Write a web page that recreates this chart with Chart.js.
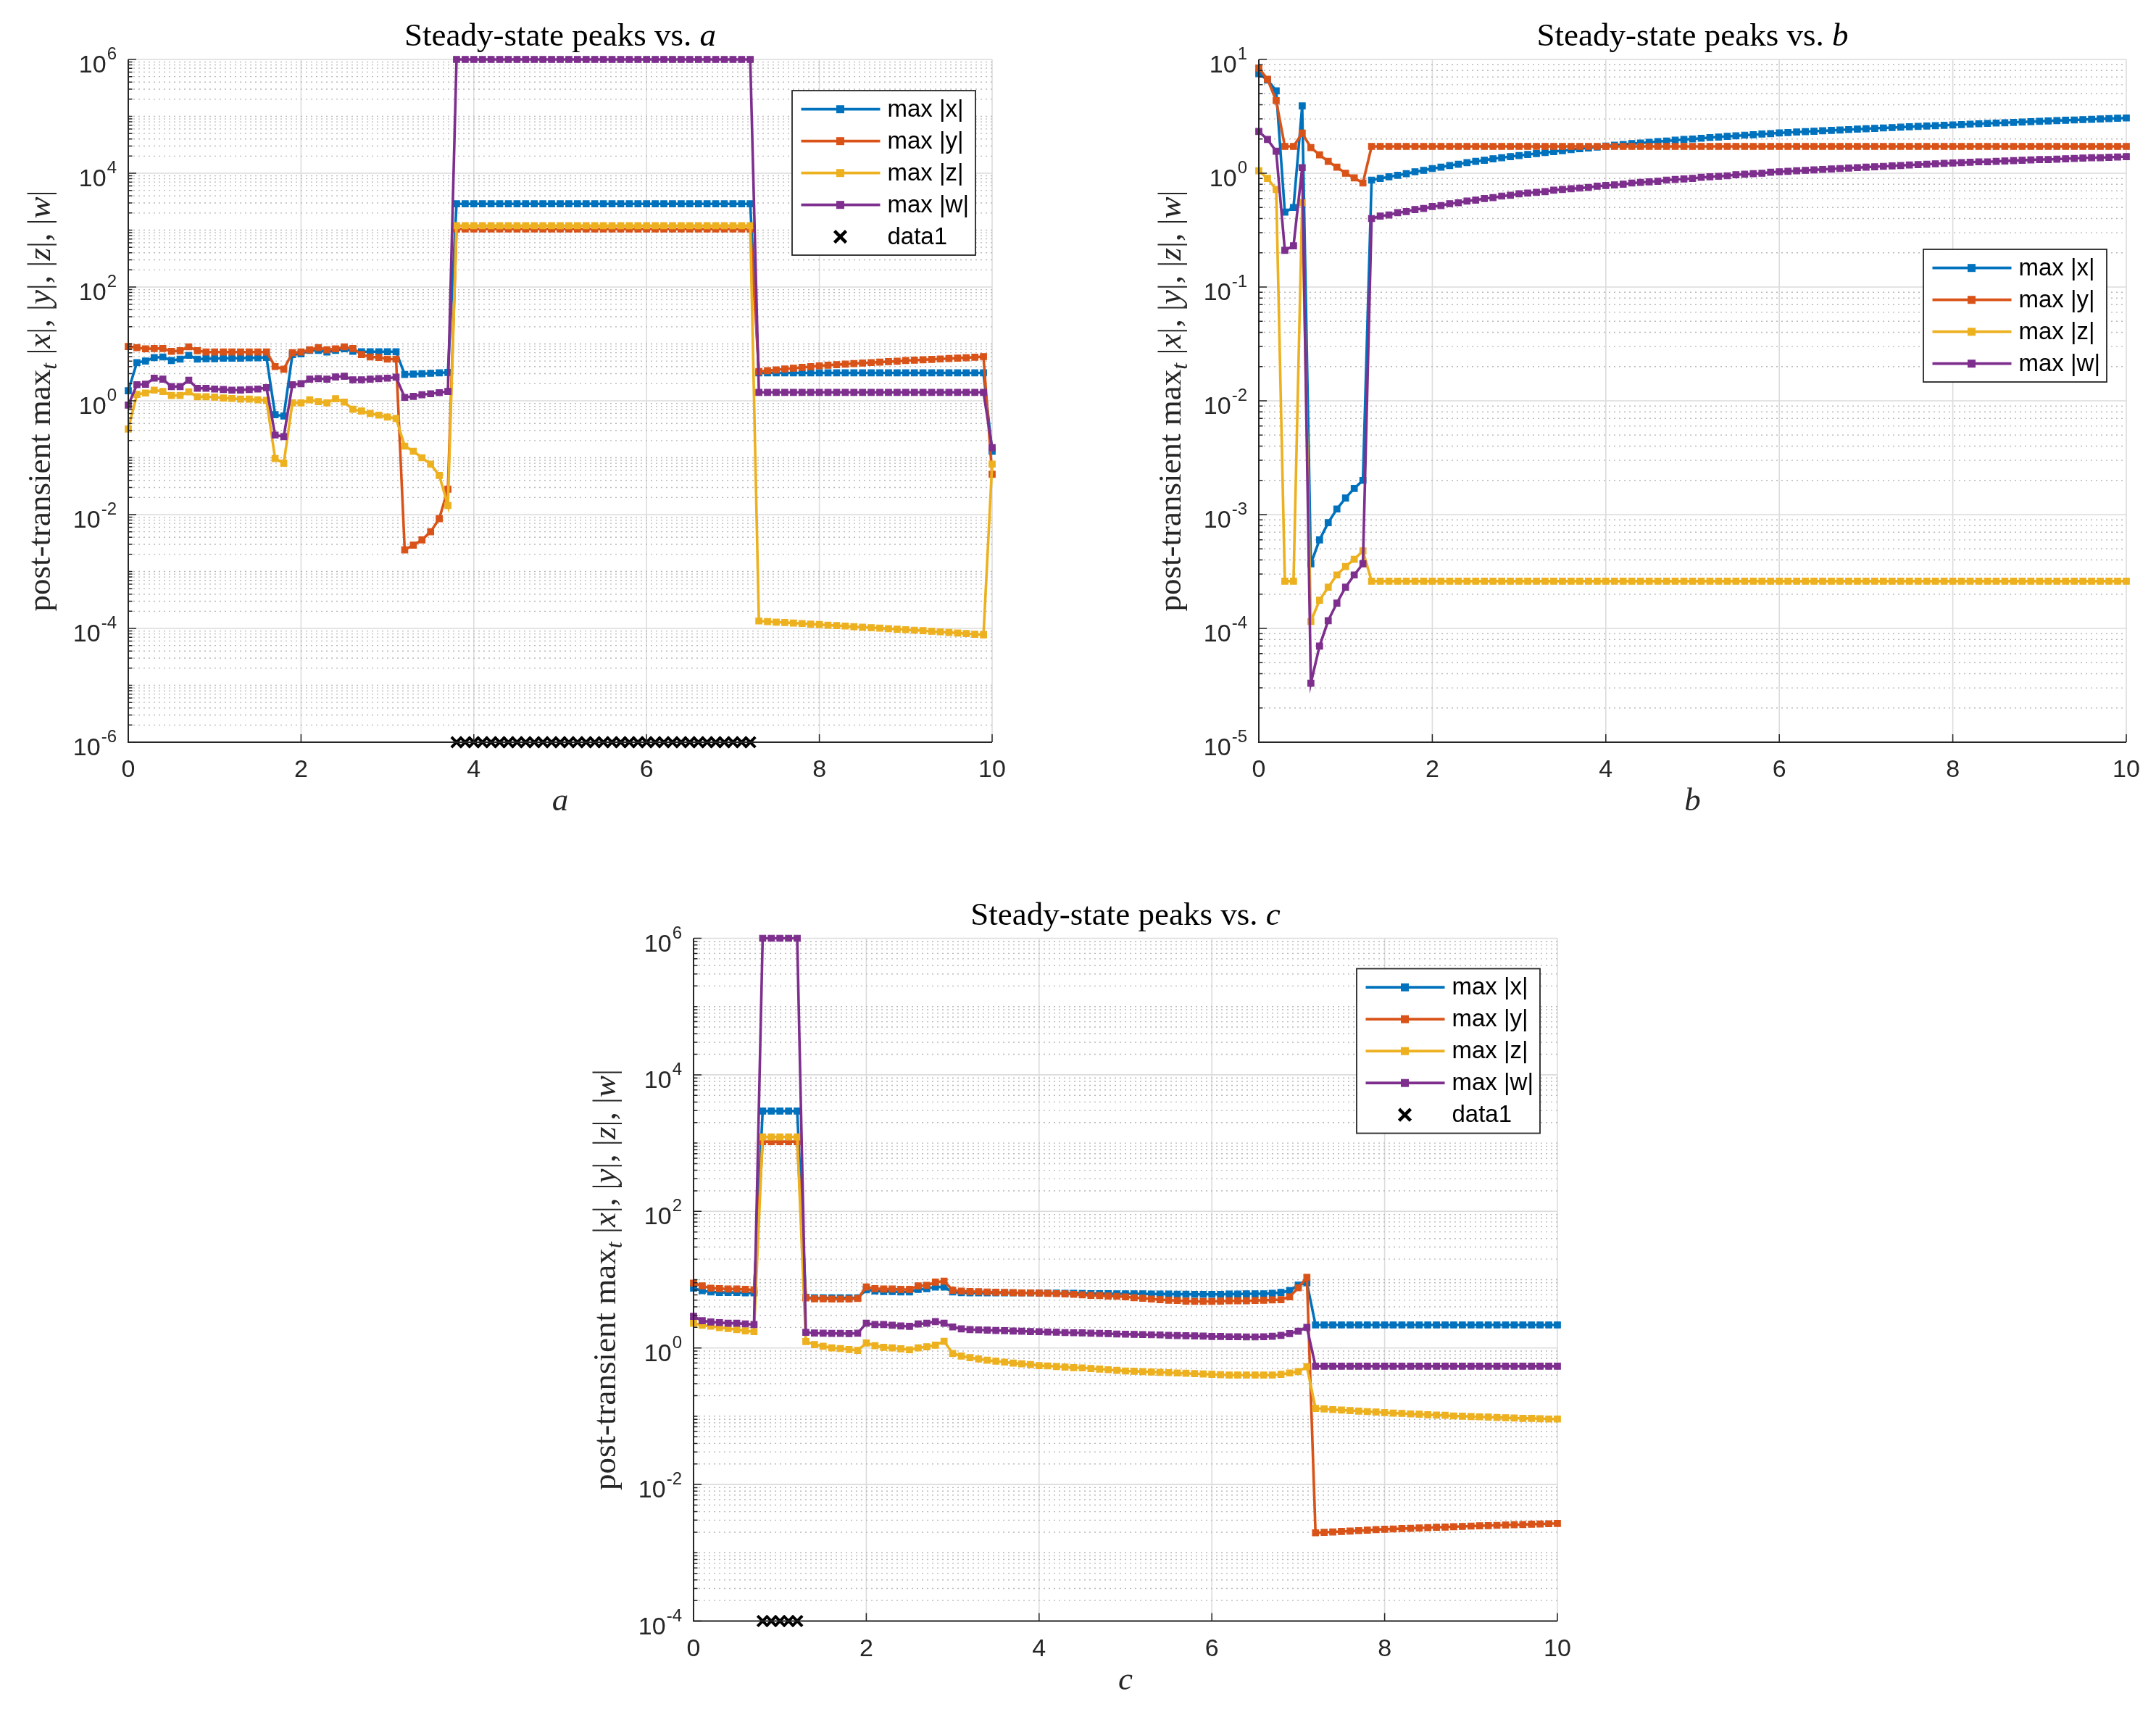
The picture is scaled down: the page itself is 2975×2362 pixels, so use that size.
<!DOCTYPE html>
<html>
<head>
<meta charset="utf-8">
<script src="https://cdn.jsdelivr.net/npm/chart.js@4.4.1/dist/chart.umd.min.js"></script>
<style>
  html, body { margin: 0; padding: 0; background: #fff; }
  #page { position: relative; width: 2975px; height: 2362px; background: #fff; overflow: hidden; }
  #page canvas { position: absolute; }
</style>
</head>
<body>
<div id="page">
  <canvas id="chartA" width="1480" height="1180" style="left:0px;top:0px"></canvas>
  <canvas id="chartB" width="1495" height="1180" style="left:1480px;top:0px"></canvas>
  <canvas id="chartC" width="1560" height="1162" style="left:700px;top:1200px"></canvas>
</div>
<script>
// parameter sweep shared by all three panels
const paramGrid = [
  0, 0.1, 0.2, 0.3, 0.4, 0.5, 0.6, 0.7, 0.8, 0.9,
  1, 1.1, 1.2, 1.3, 1.4, 1.5, 1.6, 1.7, 1.8, 1.9,
  2, 2.1, 2.2, 2.3, 2.4, 2.5, 2.6, 2.7, 2.8, 2.9,
  3, 3.1, 3.2, 3.3, 3.4, 3.5, 3.6, 3.7, 3.8, 3.9,
  4, 4.1, 4.2, 4.3, 4.4, 4.5, 4.6, 4.7, 4.8, 4.9,
  5, 5.1, 5.2, 5.3, 5.4, 5.5, 5.6, 5.7, 5.8, 5.9,
  6, 6.1, 6.2, 6.3, 6.4, 6.5, 6.6, 6.7, 6.8, 6.9,
  7, 7.1, 7.2, 7.3, 7.4, 7.5, 7.6, 7.7, 7.8, 7.9,
  8, 8.1, 8.2, 8.3, 8.4, 8.5, 8.6, 8.7, 8.8, 8.9,
  9, 9.1, 9.2, 9.3, 9.4, 9.5, 9.6, 9.7, 9.8, 9.9,
  10
];
const seriesLabels = ['max |x|', 'max |y|', 'max |z|', 'max |w|'];
const flagLabel = 'data1';

// ---- sweep over a ----
const aMaxX = [
  1.5, 4.7, 5.0, 5.75, 5.9, 5.1, 5.4, 6.3, 5.4, 5.5,
  5.5, 5.6, 5.6, 5.6, 5.7, 5.7, 5.8, 0.57, 0.54, 6.5,
  6.7, 7.7, 7.7, 7.2, 7.7, 8.2, 7.4, 7.3, 7.3, 7.3,
  7.3, 7.3, 2.9, 2.95, 3.0, 3.05, 3.1, 3.15, 2900, 2900,
  2900, 2900, 2900, 2900, 2900, 2900, 2900, 2900, 2900, 2900,
  2900, 2900, 2900, 2900, 2900, 2900, 2900, 2900, 2900, 2900,
  2900, 2900, 2900, 2900, 2900, 2900, 2900, 2900, 2900, 2900,
  2900, 2900, 2900, 3.1, 3.1, 3.1, 3.1, 3.1, 3.1, 3.1,
  3.1, 3.1, 3.1, 3.1, 3.1, 3.1, 3.1, 3.1, 3.1, 3.1,
  3.1, 3.1, 3.1, 3.1, 3.1, 3.1, 3.1, 3.1, 3.1, 3.1,
  0.13
];
const aMaxY = [
  9.0, 8.6, 8.2, 8.3, 8.3, 7.4, 7.6, 8.9, 7.6, 7.2,
  7.2, 7.2, 7.2, 7.2, 7.2, 7.2, 7.2, 4.0, 3.6, 7.0,
  7.2, 7.9, 8.6, 7.9, 8.2, 8.9, 8.3, 6.5, 5.9, 5.8,
  5.4, 5.4, 0.0024, 0.0029, 0.0036, 0.005, 0.0085, 0.028, 1050, 1050,
  1050, 1050, 1050, 1050, 1050, 1050, 1050, 1050, 1050, 1050,
  1050, 1050, 1050, 1050, 1050, 1050, 1050, 1050, 1050, 1050,
  1050, 1050, 1050, 1050, 1050, 1050, 1050, 1050, 1050, 1050,
  1050, 1050, 1050, 3.27, 3.39, 3.50, 3.62, 3.74, 3.86, 3.98,
  4.12, 4.22, 4.32, 4.42, 4.52, 4.61, 4.70, 4.79, 4.88, 4.97,
  5.10, 5.18, 5.27, 5.35, 5.44, 5.53, 5.62, 5.72, 5.83, 5.98,
  0.051
];
const aMaxZ = [
  0.32, 1.3, 1.37, 1.54, 1.46, 1.24, 1.24, 1.44, 1.18, 1.18,
  1.16, 1.12, 1.10, 1.07, 1.07, 1.04, 1.02, 0.097, 0.080, 0.92,
  0.92, 1.04, 0.97, 0.92, 1.09, 0.95, 0.71, 0.66, 0.60, 0.56,
  0.52, 0.49, 0.16, 0.13, 0.10, 0.077, 0.049, 0.0145, 1200, 1200,
  1200, 1200, 1200, 1200, 1200, 1200, 1200, 1200, 1200, 1200,
  1200, 1200, 1200, 1200, 1200, 1200, 1200, 1200, 1200, 1200,
  1200, 1200, 1200, 1200, 1200, 1200, 1200, 1200, 1200, 1200,
  1200, 1200, 1200, 1.35e-4, 1.32e-4, 1.29e-4, 1.27e-4, 1.24e-4, 1.22e-4, 1.19e-4,
  1.17e-4, 1.14e-4, 1.12e-4, 1.10e-4, 1.07e-4, 1.05e-4, 1.03e-4, 1.01e-4, 9.9e-5, 9.7e-5,
  9.5e-5, 9.3e-5, 9.1e-5, 8.9e-5, 8.7e-5, 8.5e-5, 8.3e-5, 8.1e-5, 7.9e-5, 7.7e-5,
  0.077
];
const aMaxW = [
  0.84, 1.92, 1.96, 2.5, 2.4, 1.78, 1.78, 2.3, 1.66, 1.66,
  1.61, 1.58, 1.54, 1.55, 1.58, 1.61, 1.7, 0.25, 0.235, 1.92,
  2.0, 2.4, 2.46, 2.4, 2.63, 2.7, 2.34, 2.34, 2.4, 2.46,
  2.5, 2.6, 1.15, 1.2, 1.28, 1.33, 1.39, 1.46, 1e6, 1e6,
  1e6, 1e6, 1e6, 1e6, 1e6, 1e6, 1e6, 1e6, 1e6, 1e6,
  1e6, 1e6, 1e6, 1e6, 1e6, 1e6, 1e6, 1e6, 1e6, 1e6,
  1e6, 1e6, 1e6, 1e6, 1e6, 1e6, 1e6, 1e6, 1e6, 1e6,
  1e6, 1e6, 1e6, 1.41, 1.41, 1.41, 1.41, 1.41, 1.41, 1.41,
  1.41, 1.41, 1.41, 1.41, 1.41, 1.41, 1.41, 1.41, 1.41, 1.41,
  1.41, 1.41, 1.41, 1.41, 1.41, 1.41, 1.41, 1.41, 1.41, 1.41,
  0.15
];
const aFlagParams = [
  3.8, 3.9, 4, 4.1, 4.2, 4.3, 4.4, 4.5, 4.6, 4.7, 4.8, 4.9,
  5, 5.1, 5.2, 5.3, 5.4, 5.5, 5.6, 5.7, 5.8, 5.9,
  6, 6.1, 6.2, 6.3, 6.4, 6.5, 6.6, 6.7, 6.8, 6.9,
  7, 7.1, 7.2
];
const aFlagLevel = 1e-6;
const aTickExps = [-6, -4, -2, 0, 2, 4, 6];

// ---- sweep over b ----
const bMaxX = [
  7.5, 6.6, 5.3, 0.455, 0.50, 3.9, 3.7e-4, 6.0e-4, 8.5e-4, 1.12e-3,
  1.4e-3, 1.7e-3, 2.0e-3, 0.87, 0.90, 0.93, 0.96, 0.99, 1.03, 1.06,
  1.10, 1.13, 1.17, 1.20, 1.24, 1.27, 1.30, 1.34, 1.37, 1.40,
  1.43, 1.46, 1.49, 1.52, 1.55, 1.58, 1.61, 1.64, 1.67, 1.70,
  1.73, 1.76, 1.79, 1.82, 1.84, 1.87, 1.90, 1.92, 1.95, 1.98,
  2.00, 2.03, 2.06, 2.08, 2.11, 2.13, 2.16, 2.18, 2.21, 2.23,
  2.26, 2.28, 2.30, 2.32, 2.34, 2.36, 2.38, 2.40, 2.42, 2.44,
  2.46, 2.48, 2.50, 2.52, 2.54, 2.56, 2.58, 2.60, 2.62, 2.64,
  2.66, 2.68, 2.70, 2.72, 2.74, 2.76, 2.78, 2.80, 2.82, 2.84,
  2.86, 2.88, 2.90, 2.92, 2.94, 2.96, 2.98, 3.00, 3.02, 3.04,
  3.06
];
const bMaxY = [
  8.4, 6.7, 4.35, 1.72, 1.72, 2.25, 1.68, 1.45, 1.27, 1.13,
  1.0, 0.91, 0.82, 1.72, 1.72, 1.72, 1.72, 1.72, 1.72, 1.72,
  1.72, 1.72, 1.72, 1.72, 1.72, 1.72, 1.72, 1.72, 1.72, 1.72,
  1.72, 1.72, 1.72, 1.72, 1.72, 1.72, 1.72, 1.72, 1.72, 1.72,
  1.72, 1.72, 1.72, 1.72, 1.72, 1.72, 1.72, 1.72, 1.72, 1.72,
  1.72, 1.72, 1.72, 1.72, 1.72, 1.72, 1.72, 1.72, 1.72, 1.72,
  1.72, 1.72, 1.72, 1.72, 1.72, 1.72, 1.72, 1.72, 1.72, 1.72,
  1.72, 1.72, 1.72, 1.72, 1.72, 1.72, 1.72, 1.72, 1.72, 1.72,
  1.72, 1.72, 1.72, 1.72, 1.72, 1.72, 1.72, 1.72, 1.72, 1.72,
  1.72, 1.72, 1.72, 1.72, 1.72, 1.72, 1.72, 1.72, 1.72, 1.72,
  1.72
];
const bMaxZ = [
  1.05, 0.90, 0.72, 2.6e-4, 2.6e-4, 0.55, 1.15e-4, 1.77e-4, 2.3e-4, 2.95e-4,
  3.5e-4, 4.05e-4, 4.8e-4, 2.6e-4, 2.6e-4, 2.6e-4, 2.6e-4, 2.6e-4, 2.6e-4, 2.6e-4,
  2.6e-4, 2.6e-4, 2.6e-4, 2.6e-4, 2.6e-4, 2.6e-4, 2.6e-4, 2.6e-4, 2.6e-4, 2.6e-4,
  2.6e-4, 2.6e-4, 2.6e-4, 2.6e-4, 2.6e-4, 2.6e-4, 2.6e-4, 2.6e-4, 2.6e-4, 2.6e-4,
  2.6e-4, 2.6e-4, 2.6e-4, 2.6e-4, 2.6e-4, 2.6e-4, 2.6e-4, 2.6e-4, 2.6e-4, 2.6e-4,
  2.6e-4, 2.6e-4, 2.6e-4, 2.6e-4, 2.6e-4, 2.6e-4, 2.6e-4, 2.6e-4, 2.6e-4, 2.6e-4,
  2.6e-4, 2.6e-4, 2.6e-4, 2.6e-4, 2.6e-4, 2.6e-4, 2.6e-4, 2.6e-4, 2.6e-4, 2.6e-4,
  2.6e-4, 2.6e-4, 2.6e-4, 2.6e-4, 2.6e-4, 2.6e-4, 2.6e-4, 2.6e-4, 2.6e-4, 2.6e-4,
  2.6e-4, 2.6e-4, 2.6e-4, 2.6e-4, 2.6e-4, 2.6e-4, 2.6e-4, 2.6e-4, 2.6e-4, 2.6e-4,
  2.6e-4, 2.6e-4, 2.6e-4, 2.6e-4, 2.6e-4, 2.6e-4, 2.6e-4, 2.6e-4, 2.6e-4, 2.6e-4,
  2.6e-4
];
const bMaxW = [
  2.33, 1.98, 1.56, 0.21, 0.23, 1.12, 3.3e-5, 7.0e-5, 1.17e-4, 1.67e-4,
  2.3e-4, 2.95e-4, 3.7e-4, 0.40, 0.42, 0.43, 0.45, 0.46, 0.48, 0.49,
  0.51, 0.52, 0.54, 0.55, 0.57, 0.58, 0.60, 0.61, 0.63, 0.64,
  0.66, 0.67, 0.68, 0.69, 0.71, 0.72, 0.73, 0.74, 0.75, 0.77,
  0.78, 0.79, 0.80, 0.82, 0.83, 0.84, 0.85, 0.87, 0.88, 0.89,
  0.90, 0.92, 0.93, 0.94, 0.95, 0.97, 0.98, 0.99, 1.00, 1.02,
  1.03, 1.04, 1.05, 1.06, 1.07, 1.08, 1.09, 1.10, 1.11, 1.12,
  1.13, 1.14, 1.15, 1.16, 1.17, 1.18, 1.19, 1.20, 1.21, 1.22,
  1.23, 1.24, 1.25, 1.26, 1.26, 1.27, 1.28, 1.29, 1.30, 1.31,
  1.32, 1.32, 1.33, 1.34, 1.35, 1.36, 1.37, 1.37, 1.38, 1.39,
  1.40
];
const bTickExps = [-5, -4, -3, -2, -1, 0, 1];

// ---- sweep over c ----
const cMaxX = [
  7.5, 6.9, 6.6, 6.5, 6.5, 6.5, 6.4, 6.4, 2950, 2950,
  2950, 2950, 2950, 5.5, 5.4, 5.4, 5.4, 5.4, 5.4, 5.4,
  7.1, 6.8, 6.7, 6.7, 6.6, 6.6, 7.2, 7.4, 7.8, 7.8,
  6.6, 6.45, 6.4, 6.4, 6.4, 6.4, 6.4, 6.4, 6.4, 6.4,
  6.36, 6.35, 6.33, 6.3, 6.3, 6.28, 6.25, 6.25, 6.22, 6.2,
  6.2, 6.2, 6.18, 6.17, 6.15, 6.15, 6.13, 6.12, 6.1, 6.1,
  6.1, 6.1, 6.15, 6.15, 6.2, 6.2, 6.2, 6.3, 6.5, 6.9,
  8.3, 9.0, 2.17, 2.17, 2.17, 2.17, 2.17, 2.17, 2.17, 2.17,
  2.17, 2.17, 2.17, 2.17, 2.17, 2.17, 2.17, 2.17, 2.17, 2.17,
  2.17, 2.17, 2.17, 2.17, 2.17, 2.17, 2.17, 2.17, 2.17, 2.17,
  2.17
];
const cMaxY = [
  8.9, 8.1, 7.5, 7.4, 7.3, 7.3, 7.2, 7.1, 1050, 1050,
  1050, 1050, 1050, 5.4, 5.25, 5.25, 5.2, 5.2, 5.2, 5.3,
  7.8, 7.4, 7.3, 7.3, 7.2, 7.2, 8.1, 8.25, 9.2, 9.5,
  7.0, 6.8, 6.7, 6.65, 6.6, 6.55, 6.5, 6.45, 6.4, 6.4,
  6.36, 6.3, 6.25, 6.2, 6.1, 6.0, 5.9, 5.85, 5.75, 5.7,
  5.6, 5.45, 5.35, 5.2, 5.1, 5.0, 4.95, 4.85, 4.8, 4.8,
  4.8, 4.85, 4.9, 4.9, 4.9, 4.95, 5.0, 5.05, 5.1, 5.6,
  7.6, 10.8, 1.96e-3, 1.99e-3, 2.02e-3, 2.05e-3, 2.08e-3, 2.11e-3, 2.14e-3, 2.18e-3,
  2.21e-3, 2.23e-3, 2.26e-3, 2.28e-3, 2.31e-3, 2.33e-3, 2.36e-3, 2.38e-3, 2.41e-3, 2.43e-3,
  2.46e-3, 2.48e-3, 2.50e-3, 2.52e-3, 2.55e-3, 2.57e-3, 2.59e-3, 2.62e-3, 2.64e-3, 2.66e-3,
  2.69e-3
];
const cMaxZ = [
  2.3, 2.15, 2.08, 1.99, 1.92, 1.86, 1.78, 1.73, 1230, 1230,
  1230, 1230, 1230, 1.24, 1.12, 1.06, 1.0, 0.98, 0.95, 0.92,
  1.18, 1.08, 1.02, 1.0, 0.97, 0.94, 1.0, 1.04, 1.10, 1.25,
  0.83, 0.76, 0.72, 0.69, 0.66, 0.64, 0.62, 0.60, 0.585, 0.57,
  0.55, 0.545, 0.535, 0.525, 0.515, 0.51, 0.50, 0.49, 0.48, 0.47,
  0.46, 0.455, 0.45, 0.445, 0.44, 0.435, 0.43, 0.425, 0.42, 0.415,
  0.41, 0.405, 0.40, 0.40, 0.40, 0.40, 0.40, 0.40, 0.41, 0.43,
  0.45, 0.53, 0.130, 0.128, 0.125, 0.123, 0.121, 0.119, 0.117, 0.115,
  0.113, 0.111, 0.110, 0.108, 0.107, 0.105, 0.104, 0.103, 0.101, 0.100,
  0.099, 0.098, 0.097, 0.096, 0.095, 0.094, 0.093, 0.093, 0.092, 0.091,
  0.091
];
const cMaxW = [
  2.9, 2.5, 2.4, 2.35, 2.3, 2.3, 2.25, 2.2, 1e6, 1e6,
  1e6, 1e6, 1e6, 1.69, 1.65, 1.64, 1.63, 1.63, 1.62, 1.64,
  2.3, 2.2, 2.2, 2.15, 2.1, 2.07, 2.24, 2.3, 2.43, 2.3,
  2.03, 1.9, 1.86, 1.84, 1.82, 1.8, 1.79, 1.77, 1.76, 1.74,
  1.73, 1.71, 1.70, 1.68, 1.67, 1.66, 1.64, 1.63, 1.62, 1.60,
  1.59, 1.58, 1.57, 1.56, 1.55, 1.53, 1.52, 1.51, 1.50, 1.49,
  1.47, 1.47, 1.46, 1.46, 1.45, 1.45, 1.46, 1.48, 1.53, 1.62,
  1.76, 2.0, 0.54, 0.54, 0.54, 0.54, 0.54, 0.54, 0.54, 0.54,
  0.54, 0.54, 0.54, 0.54, 0.54, 0.54, 0.54, 0.54, 0.54, 0.54,
  0.54, 0.54, 0.54, 0.54, 0.54, 0.54, 0.54, 0.54, 0.54, 0.54,
  0.54
];
const cFlagParams = [0.8, 0.9, 1, 1.1, 1.2];
const cFlagLevel = 1e-4;
const cTickExps = [-4, -2, 0, 2, 4, 6];

// MATLAB default colour order
const LINE_COLORS = ['#0072BD', '#D95319', '#EDB120', '#7E2F8E'];
const AXIS_COLOR = '#262626';
const SANS = '"Liberation Sans", Arial, sans-serif';
const SERIF = '"Liberation Serif", "Times New Roman", serif';

function lineSeries(label, color, values, order) {
  return {
    label: label,
    order: order,
    data: paramGrid.map((p, i) => ({x: p, y: values[i]})),
    borderColor: color,
    backgroundColor: color,
    borderWidth: 3.6,
    tension: 0,
    pointStyle: 'rect',
    pointRadius: 6,
    pointHoverRadius: 6,
    pointBorderWidth: 1.2,
    pointBackgroundColor: color,
    pointBorderColor: color,
    clip: false,
  };
}

function flagSeries(params, level) {
  return {
    label: flagLabel,
    order: 0,
    showLine: false,
    data: params.map(p => ({x: p, y: level})),
    borderColor: '#000',
    backgroundColor: '#000',
    pointStyle: 'crossRot',
    pointRadius: 10,
    pointHoverRadius: 10,
    pointBorderWidth: 4,
    pointBorderColor: '#000',
    clip: false,
  };
}

// grid, axes, tick labels, titles and legend drawn in MATLAB style
const matlabAxes = {
  id: 'matlabAxes',
  beforeDatasetsDraw(chart, args, o) {
    const {ctx, chartArea: a} = chart;
    const xs = chart.scales.x, ys = chart.scales.y;
    ctx.save();

    // vertical grid
    ctx.strokeStyle = '#dcdcdc';
    ctx.lineWidth = 1.6;
    ctx.beginPath();
    xs.ticks.forEach(t => {
      const px = xs.getPixelForValue(t.value);
      ctx.moveTo(px, a.top);
      ctx.lineTo(px, a.bottom);
    });
    ctx.stroke();

    // minor horizontal grid (dotted)
    const lo = o.exps[0], hi = o.exps[o.exps.length - 1];
    ctx.setLineDash([2, 5]);
    ctx.strokeStyle = '#b8b8b8';
    ctx.lineWidth = 1.4;
    ctx.beginPath();
    for (let e = lo; e < hi; e++) {
      for (let m = 1; m < 10; m++) {
        if (m === 1 && o.exps.includes(e)) continue;
        const py = ys.getPixelForValue(m * Math.pow(10, e));
        ctx.moveTo(a.left, py);
        ctx.lineTo(a.right, py);
      }
    }
    ctx.stroke();
    ctx.setLineDash([]);

    // major horizontal grid
    ctx.strokeStyle = '#dcdcdc';
    ctx.lineWidth = 1.6;
    ctx.beginPath();
    o.exps.forEach(e => {
      const py = ys.getPixelForValue(Math.pow(10, e));
      ctx.moveTo(a.left, py);
      ctx.lineTo(a.right, py);
    });
    ctx.stroke();
    ctx.restore();
  },

  afterDatasetsDraw(chart, args, o) {
    const {ctx, chartArea: a} = chart;
    const xs = chart.scales.x, ys = chart.scales.y;
    const lo = o.exps[0], hi = o.exps[o.exps.length - 1];
    ctx.save();

    // axis lines
    ctx.strokeStyle = AXIS_COLOR;
    ctx.lineWidth = 2;
    ctx.beginPath();
    ctx.moveTo(a.left, a.top);
    ctx.lineTo(a.left, a.bottom);
    ctx.lineTo(a.right, a.bottom);
    ctx.stroke();

    // inward ticks
    ctx.lineWidth = 1.5;
    ctx.beginPath();
    for (let e = lo; e <= hi; e++) {
      for (let m = 1; m < 10; m++) {
        if (e === hi && m > 1) break;
        const py = ys.getPixelForValue(m * Math.pow(10, e));
        const len = (m === 1 && o.exps.includes(e)) ? 11 : 5.5;
        ctx.moveTo(a.left, py);
        ctx.lineTo(a.left + len, py);
      }
    }
    xs.ticks.forEach(t => {
      const px = xs.getPixelForValue(t.value);
      ctx.moveTo(px, a.bottom);
      ctx.lineTo(px, a.bottom - 11);
    });
    ctx.stroke();

    // x tick labels
    ctx.fillStyle = AXIS_COLOR;
    ctx.font = '34px ' + SANS;
    ctx.textAlign = 'center';
    ctx.textBaseline = 'alphabetic';
    xs.ticks.forEach(t => {
      ctx.fillText(String(t.value), xs.getPixelForValue(t.value), a.bottom + 48);
    });

    // y tick labels: 10 with superscript exponent
    ctx.textAlign = 'left';
    o.exps.forEach(e => {
      const py = ys.getPixelForValue(Math.pow(10, e));
      const es = String(e);
      ctx.font = '24px ' + SANS;
      const we = ctx.measureText(es).width;
      ctx.font = '34px ' + SANS;
      const wb = ctx.measureText('10').width;
      const right = a.left - 16;
      ctx.fillText('10', right - we - wb - 1, py + 18);
      ctx.font = '24px ' + SANS;
      ctx.fillText(es, right - we, py);
    });

    // title
    ctx.fillStyle = '#000';
    const cx = (a.left + a.right) / 2;
    const t1 = 'Steady-state peaks vs. ';
    ctx.font = '45px ' + SERIF;
    const w1 = ctx.measureText(t1).width;
    ctx.font = 'italic 45px ' + SERIF;
    const w2 = ctx.measureText(o.variable).width;
    ctx.font = '45px ' + SERIF;
    ctx.fillText(t1, cx - (w1 + w2) / 2, a.top - 19);
    ctx.font = 'italic 45px ' + SERIF;
    ctx.fillText(o.variable, cx - (w1 + w2) / 2 + w1, a.top - 19);

    // x-axis label
    ctx.fillStyle = AXIS_COLOR;
    ctx.textAlign = 'center';
    ctx.fillText(o.variable, cx, a.bottom + 94);

    // y-axis label (rotated, with subscript t)
    const runs = [
      ['post-transient ', 'n'], ['max', 'n'], ['t', 's'], [' ', 'n'],
      ['|', 'n'], ['x', 'i'], ['|, |', 'n'], ['y', 'i'], ['|, |', 'n'],
      ['z', 'i'], ['|, |', 'n'], ['w', 'i'], ['|', 'n']
    ];
    const fontFor = k => k === 'n' ? '45px ' + SERIF : (k === 'i' ? 'italic 45px ' + SERIF : 'italic 32px ' + SERIF);
    let total = 0;
    runs.forEach(r => { ctx.font = fontFor(r[1]); total += ctx.measureText(r[0]).width; });
    ctx.translate(a.left - 108, (a.top + a.bottom) / 2);
    ctx.rotate(-Math.PI / 2);
    ctx.textAlign = 'left';
    let xpos = -total / 2;
    runs.forEach(r => {
      ctx.font = fontFor(r[1]);
      ctx.fillText(r[0], xpos, r[1] === 's' ? 9 : 0);
      xpos += ctx.measureText(r[0]).width;
    });
    ctx.setTransform(1, 0, 0, 1, 0, 0);

    // legend box
    const lg = o.legend;
    const sets = chart.data.datasets;
    const boxW = 253;
    const boxH = 51 + 44 * (sets.length - 1);
    const bx = a.right - lg.right - boxW;
    const by = a.top + lg.top;
    ctx.fillStyle = '#fff';
    ctx.fillRect(bx, by, boxW, boxH);
    ctx.strokeStyle = AXIS_COLOR;
    ctx.lineWidth = 1.8;
    ctx.strokeRect(bx, by, boxW, boxH);
    sets.forEach((ds, i) => {
      const cy = by + 25.7 + 44 * i;
      const mx = bx + 66.5;
      if (ds.pointStyle === 'crossRot') {
        ctx.strokeStyle = '#000';
        ctx.lineWidth = 4.5;
        ctx.beginPath();
        ctx.moveTo(mx - 8, cy - 8); ctx.lineTo(mx + 8, cy + 8);
        ctx.moveTo(mx - 8, cy + 8); ctx.lineTo(mx + 8, cy - 8);
        ctx.stroke();
      } else {
        ctx.strokeStyle = ds.borderColor;
        ctx.lineWidth = 3.8;
        ctx.beginPath();
        ctx.moveTo(bx + 12.5, cy);
        ctx.lineTo(bx + 121.5, cy);
        ctx.stroke();
        ctx.fillStyle = ds.borderColor;
        ctx.fillRect(mx - 5.5, cy - 5.5, 11, 11);
      }
      ctx.fillStyle = '#000';
      ctx.font = '33px ' + SANS;
      ctx.textAlign = 'left';
      ctx.textBaseline = 'middle';
      ctx.fillText(ds.label, bx + 131.5, cy + 1);
      ctx.textBaseline = 'alphabetic';
    });

    ctx.restore();
  }
};

function makePanel(id, padding, yMin, yMax, exps, variable, datasets, legend) {
  return new Chart(document.getElementById(id), {
    type: 'line',
    data: {datasets: datasets},
    options: {
      responsive: false,
      animation: false,
      devicePixelRatio: 1,
      events: [],
      layout: {padding: padding},
      scales: {
        x: {
          type: 'linear', min: 0, max: 10,
          ticks: {stepSize: 2, display: false},
          grid: {display: false},
          border: {display: false},
          afterFit: s => { s.height = 0; },
        },
        y: {
          type: 'logarithmic', min: yMin, max: yMax,
          ticks: {display: false},
          grid: {display: false},
          border: {display: false},
          afterFit: s => { s.width = 0; },
        },
      },
      plugins: {
        legend: {display: false},
        tooltip: {enabled: false},
        matlabAxes: {exps: exps, variable: variable, legend: legend},
      },
    },
    plugins: [matlabAxes],
  });
}

makePanel('chartA', {left: 177, top: 82, right: 111, bottom: 156}, 1e-6, 1e6, aTickExps, 'a', [
  lineSeries(seriesLabels[0], LINE_COLORS[0], aMaxX, 4),
  lineSeries(seriesLabels[1], LINE_COLORS[1], aMaxY, 3),
  lineSeries(seriesLabels[2], LINE_COLORS[2], aMaxZ, 2),
  lineSeries(seriesLabels[3], LINE_COLORS[3], aMaxW, 1),
  flagSeries(aFlagParams, aFlagLevel),
], {top: 43, right: 23});

makePanel('chartB', {left: 257, top: 82, right: 41, bottom: 156}, 1e-5, 1e1, bTickExps, 'b', [
  lineSeries(seriesLabels[0], LINE_COLORS[0], bMaxX, 4),
  lineSeries(seriesLabels[1], LINE_COLORS[1], bMaxY, 3),
  lineSeries(seriesLabels[2], LINE_COLORS[2], bMaxZ, 2),
  lineSeries(seriesLabels[3], LINE_COLORS[3], bMaxW, 1),
], {top: 262, right: 27});

makePanel('chartC', {left: 257, top: 94.5, right: 111, bottom: 125.5}, 1e-4, 1e6, cTickExps, 'c', [
  lineSeries(seriesLabels[0], LINE_COLORS[0], cMaxX, 4),
  lineSeries(seriesLabels[1], LINE_COLORS[1], cMaxY, 3),
  lineSeries(seriesLabels[2], LINE_COLORS[2], cMaxZ, 2),
  lineSeries(seriesLabels[3], LINE_COLORS[3], cMaxW, 1),
  flagSeries(cFlagParams, cFlagLevel),
], {top: 42, right: 24});
</script>
</body>
</html>
